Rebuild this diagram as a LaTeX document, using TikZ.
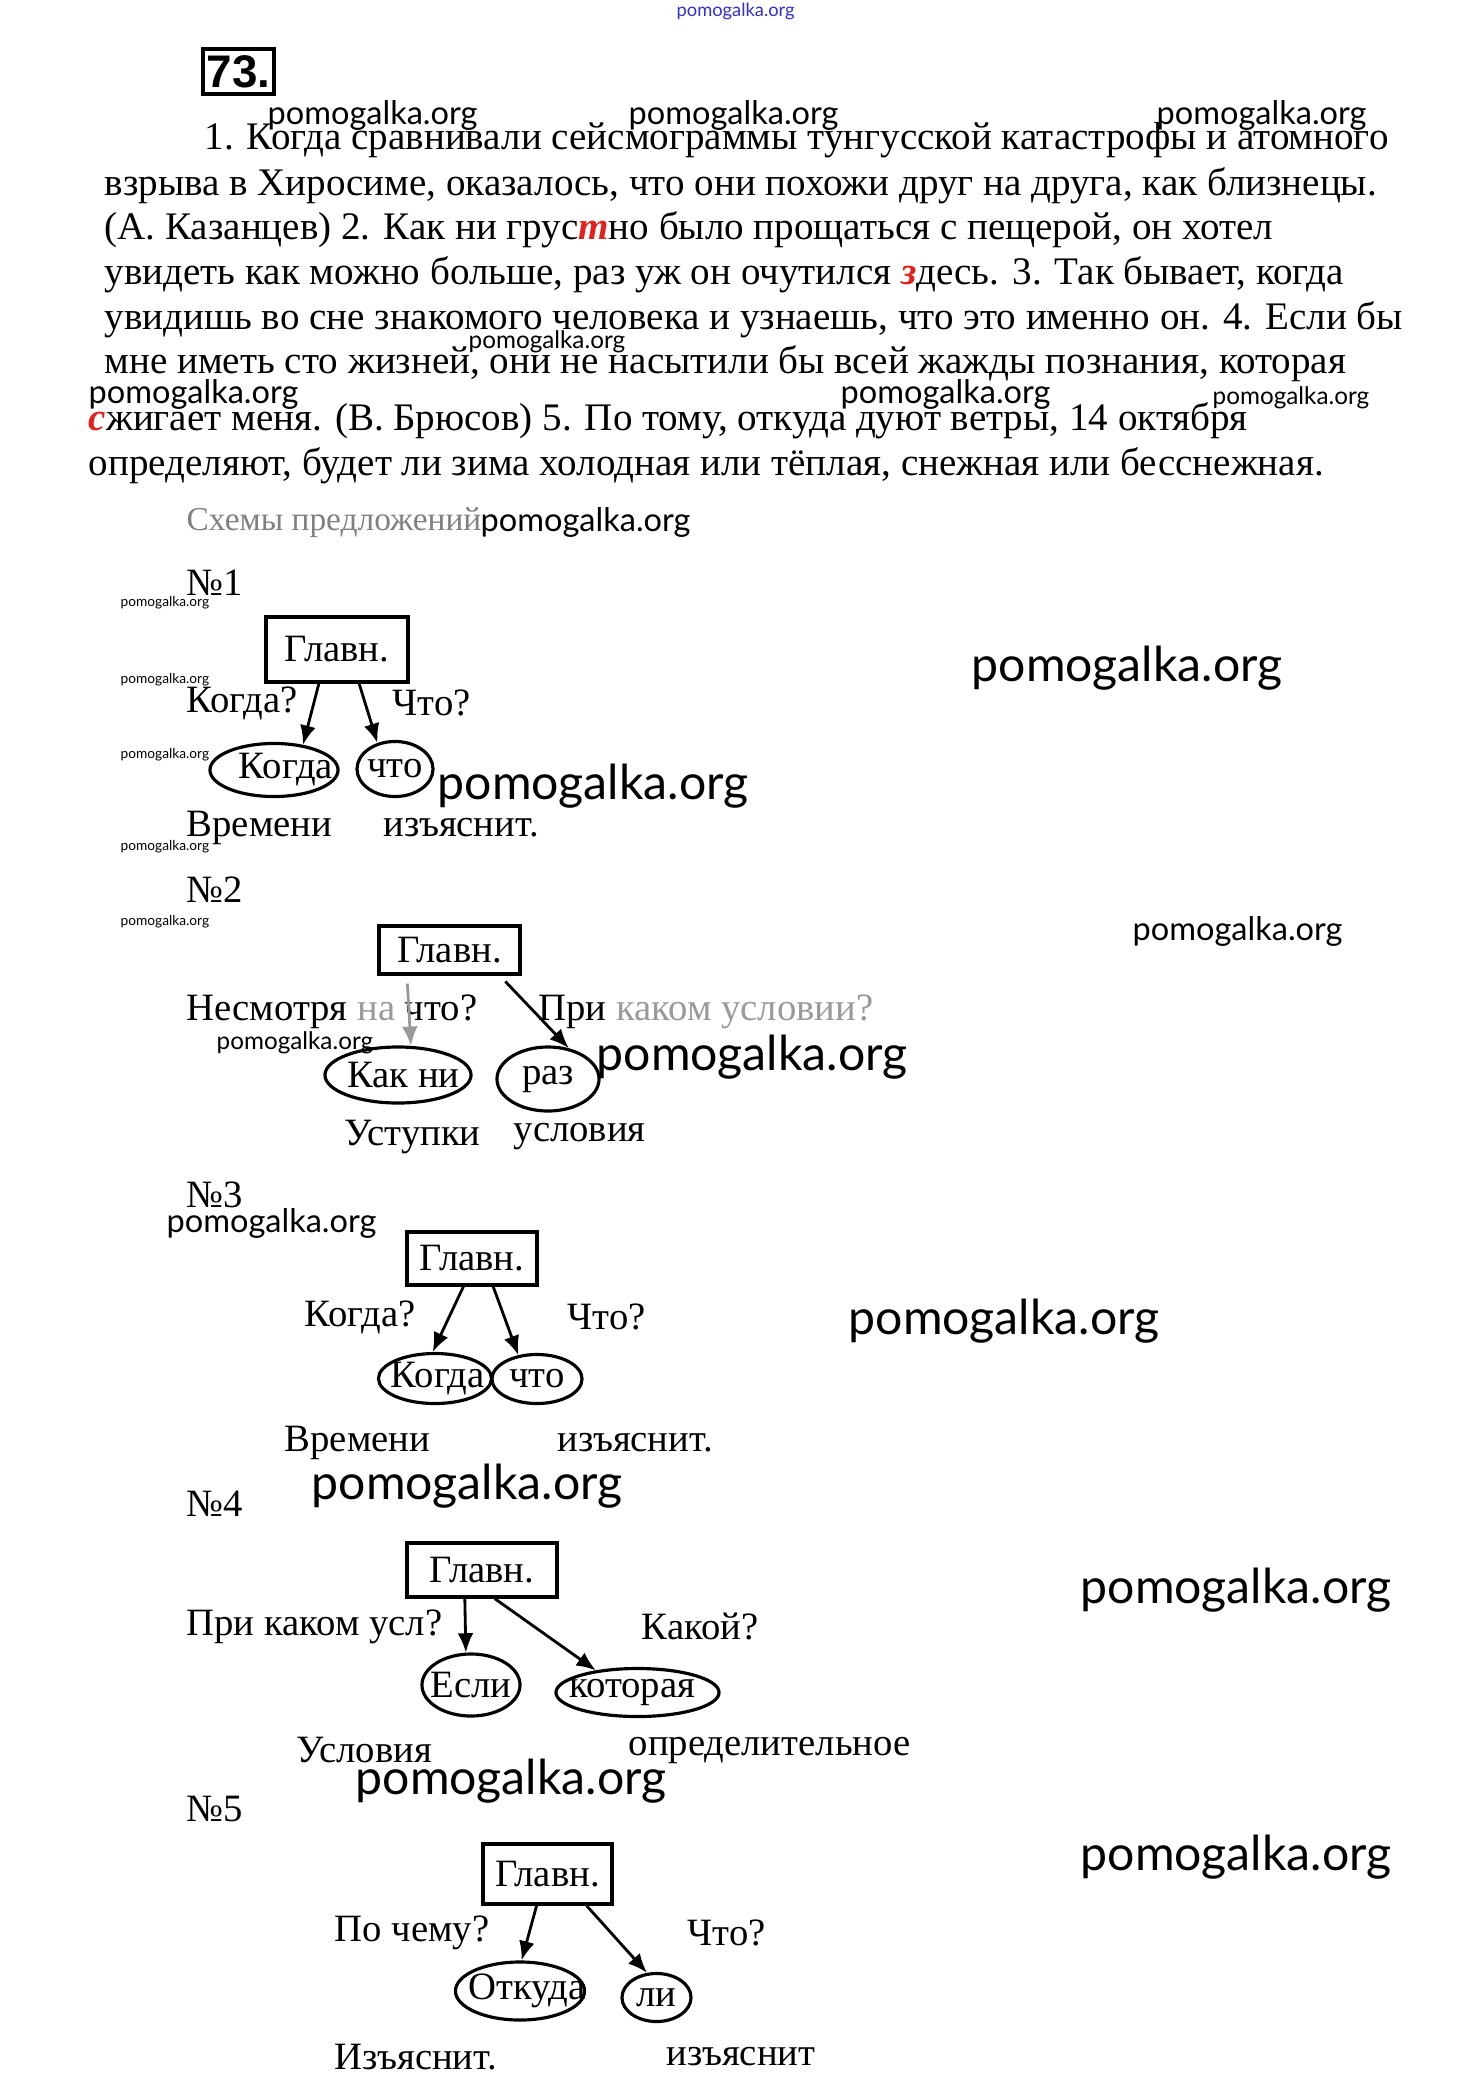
\documentclass[tikz,border=0pt]{standalone}
\usepackage{fontspec}
\setmainfont{Liberation Serif}
\newfontfamily\wmfont{Lato}
\newfontfamily\numfont{Liberation Sans}
\usepackage{xcolor}
\usepackage{tikz}
\usetikzlibrary{arrows.meta,shapes.geometric}
\definecolor{headgray}{HTML}{808080}
\definecolor{fadegray}{HTML}{9A9A9A}
\definecolor{markred}{HTML}{E3211C}
\definecolor{wmblue}{HTML}{3030D8}
\newcommand{\redl}[1]{\textcolor{markred}{\textbf{\textit{#1}}}}
\newcommand{\cl}[2][0pt]{\makebox[0pt]{\kern#1 #2}}

\begin{document}
\begin{tikzpicture}[x=0.01cm,y=-0.01cm,>={Latex[length=5.5pt,width=4.5pt]}]
\tikzstyle{para}=[anchor=west,inner sep=0pt,font=\fontsize{11.1}{13}\selectfont]
\tikzstyle{txt}=[anchor=west,inner sep=0pt,font=\fontsize{11}{13}\selectfont]
\tikzstyle{glavn}=[draw,line width=0.9pt,inner sep=0pt,font=\fontsize{11}{13}\selectfont]
\tikzstyle{clause}=[draw,ellipse,line width=0.9pt,inner sep=0pt,font=\fontsize{11}{13}\selectfont]
\tikzstyle{link}=[->,line width=0.8pt]
\newcommand{\wmark}[4]{%
\node[anchor=west,inner sep=0pt,font=\wmfont\fontsize{#4}{#4}\selectfont] (#1) at (#2,#3) {pomogalka.org};
}
\useasboundingbox (0,0) rectangle (1467,2094);

% header
\node[anchor=west,inner sep=0pt,text=wmblue,font=\wmfont\fontsize{5.2}{6}\selectfont] (wmtop) at (676,11) {pomogalka.org};
\node[draw,line width=1.4pt,minimum width=0.71cm,minimum height=0.45cm,inner sep=0pt,font=\numfont\bfseries\fontsize{13}{14}\selectfont] (num) at (238.5,71.5) {73.};

% text of the exercise
\node[para] (l1) at (204,140) {1. Когда сравнивали сейсмограммы тунгусской катастрофы и атомного};
\node[para] (l2) at (104,186) {взрыва в Хиросиме, оказалось, что они похожи друг на друга, как близнецы.};
\node[para] (l3) at (104,230) {(А. Казанцев) 2. Как ни грус\redl{т}но было прощаться с пещерой, он хотел};
\node[para] (l4) at (104,275) {увидеть как можно больше, раз уж он очутился \redl{з}десь. 3. Так бывает, когда};
\node[para] (l5) at (104,320) {увидишь во сне знакомого человека и узнаешь, что это именно он. 4. Если бы};
\node[para] (l6) at (104,364) {мне иметь сто жизней, они не насытили бы всей жажды познания, которая};
\node[para] (l7) at (88,421) {\redl{с}жигает меня. (В. Брюсов) 5. По тому, откуда дуют ветры, 14 октября};
\node[para] (l8) at (88,466) {определяют, будет ли зима холодная или тёплая, снежная или бесснежная.};
\wmark{wa}{267}{115}{9.25}
\wmark{wb}{628}{115}{9.25}
\wmark{wc}{1156}{115}{9.25}
\wmark{wd}{468}{342}{6.9}
\wmark{we}{88}{394}{9.25}
\wmark{wf}{840}{394}{9.25}
\wmark{wg}{1212}{398}{6.9}

\node[anchor=west,inner sep=0pt,text=headgray,font=\fontsize{9.5}{11}\selectfont] (head) at (186,523) {Схемы предложений};
\wmark{wh}{480}{522}{9.25}
\foreach \n/\y in {s1/603,s2/680,s3/755,s4/847,s5/922}{
  \wmark{\n}{120}{\y}{3.9}
}

% No1
\node[txt] (n1) at (186,583) {№1};
\node[glavn,minimum width=1.42cm,minimum height=0.65cm] (g1) at (337,649.5) {Главн.};
\node[clause,minimum width=1.28cm,minimum height=0.53cm] (k1) at (274,770) {\cl[6.8pt]{Когда}};
\node[clause,minimum width=0.76cm,minimum height=0.55cm] (c1) at (395,769) {\cl{что}};
\node[txt] (q1a) at (186,703) {Когда?};
\node[txt] (q1b) at (392,703) {Что?};
\node[txt] (t1a) at (186,828) {Времени};
\node[txt] (t1b) at (383,828) {изъяснит.};
\draw[link] (g1.242) -- (k1.41);
\draw[link] (g1.303) -- (c1.124);
\wmark{wi}{437}{786}{13.7}
\wmark{wj}{971}{668}{13.7}

% No2
\node[txt] (n2) at (186,890) {№2};
\wmark{wk}{1132}{931}{9.25}
\node[glavn,minimum width=1.41cm,minimum height=0.48cm] (g2) at (449.5,950) {Главн.};
\node[clause,minimum width=1.46cm,minimum height=0.56cm] (k2) at (398,1075) {\cl[3pt]{Как ни}};
\node[clause,minimum width=1.02cm,minimum height=0.64cm] (r2) at (548,1079) {\cl{раз}};
\node[txt] (q2a) at (186,1012) {Несмотря \textcolor{fadegray}{на} что?};
\node[txt] (q2b) at (538,1012) {При \textcolor{fadegray}{каком условии?}};
\node[txt] (t2a) at (344,1137) {Уступки};
\node[txt] (t2b) at (513,1137) {условия};
\draw[link,draw=fadegray,fill=fadegray,shorten <=2.3pt] (g2.211) -- (k2.66);
\draw[link,shorten <=2.3pt] (g2.333) -- (r2.56);
\wmark{wl}{216}{1043}{6.9}
\wmark{wm}{596}{1057}{13.7}

% No3
\node[txt] (n3) at (186,1195) {№3};
\wmark{wn}{166}{1223}{9.25}
\node[glavn,minimum width=1.3cm,minimum height=0.53cm] (g3) at (472,1258.5) {Главн.};
\node[clause,minimum width=1.13cm,minimum height=0.5cm] (k3) at (435,1378.5) {\cl[1.6pt]{Когда}};
\node[clause,minimum width=0.9cm,minimum height=0.49cm] (c3) at (537,1379) {\cl{что}};
\node[txt] (q3a) at (304,1317) {Когда?};
\node[txt] (q3b) at (567,1317) {Что?};
\node[txt] (t3a) at (284,1443) {Времени};
\node[txt] (t3b) at (557,1443) {изъяснит.};
\draw[link] (g3.253) -- (k3.95);
\draw[link] (g3.307) -- (c3.128);
\wmark{wo}{848}{1321}{13.7}
\wmark{wp}{311}{1486}{13.7}

% No4
\node[txt] (n4) at (186,1504) {№4};
\node[glavn,minimum width=1.5cm,minimum height=0.54cm] (g4) at (482,1570) {Главн.};
\node[clause,minimum width=0.98cm,minimum height=0.62cm] (e4) at (471,1685) {\cl{Если}};
\node[clause,minimum width=1.63cm,minimum height=0.48cm] (w4) at (637.5,1692.5) {\cl[-3pt]{которая}};
\node[txt] (q4a) at (186,1627) {При каком усл?};
\node[txt] (q4b) at (641,1627) {Какой?};
\node[txt] (t4a) at (296,1750) {Условия};
\node[txt] (t4b) at (628,1750) {определительное};
\draw[link] (g4.239) -- (e4.99);
\draw[link] (g4.294) -- (w4.152);
\wmark{wq}{1080}{1590}{13.7}
\wmark{wr}{355}{1781}{13.7}

% No5
\node[txt] (n5) at (186,1809) {№5};
\node[glavn,minimum width=1.29cm,minimum height=0.6cm] (g5) at (547.5,1874) {Главн.};
\node[clause,minimum width=1.29cm,minimum height=0.58cm] (o5) at (520,1991) {\cl[4pt]{Откуда}};
\node[clause,minimum width=0.69cm,minimum height=0.48cm] (l5) at (656.5,1997.5) {\cl{ли}};
\node[txt] (q5a) at (334,1933) {По чему?};
\node[txt] (q5b) at (687,1933) {Что?};
\node[txt] (t5a) at (334,2057) {Изъяснит.};
\node[txt] (t5b) at (666,2057) {изъяснит};
\draw[link] (g5.251) -- (o5.87);
\draw[link] (g5.321) -- (l5.111);
\wmark{ws}{1080}{1857}{13.7}
\end{tikzpicture}
\end{document}
